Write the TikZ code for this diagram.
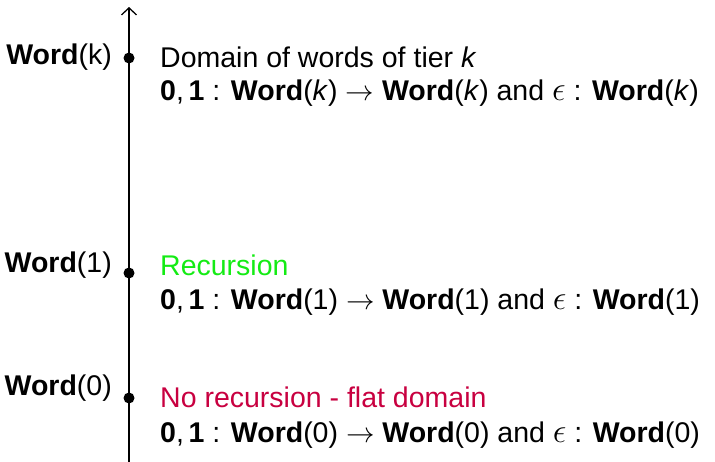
\RequirePackage{fix-cm}
\documentclass[tikz,border=0pt]{standalone}
\usepackage{fontspec}
\setmainfont{Liberation Sans}
\usetikzlibrary{arrows.meta}
\definecolor{recgreen}{RGB}{20,235,20}
\definecolor{alertred}{RGB}{200,0,64}
\newcommand{\mycolon}{\ :\ }
\begin{document}
\begin{tikzpicture}[x=1pt,y=-1pt,
  font=\fontsize{28.5}{33}\selectfont,
  dotnode/.style={circle,fill=black,inner sep=0pt,minimum size=11pt},
  lefttxt/.style={anchor=east,inner sep=0pt},
  righttxt/.style={anchor=west,inner sep=0pt}]
\useasboundingbox (0,0) rectangle (715,461);
\coordinate (bot) at (129,466);
\coordinate (top) at (129,7);
\draw[line width=1.8pt,-{Straight Barb[length=7pt,width=15pt,line width=1.3pt]}] (bot) -- (top);
\node[dotnode] (dk) at (129,58) {};
\node[dotnode] (d1) at (129,273) {};
\node[dotnode] (d0) at (129,398) {};
\node[lefttxt] (lk) at (112,57) {\textbf{Word}(k)};
\node[lefttxt] (l1) at (112,265) {\textbf{Word}(1)};
\node[lefttxt] (l0) at (112,388) {\textbf{Word}(0)};
\node[righttxt] (tk) at (160,57) {Domain of words of tier \textit{k}};
\node[righttxt] (ek) at (160,93) {\textbf{0},\,\textbf{1} : \textbf{Word}(\textit{k}) $\rightarrow$ \textbf{Word}(\textit{k}) and \scalebox{1.2}{$\epsilon$} : \textbf{Word}(\textit{k})};
\node[righttxt,text=recgreen] (t1) at (160,265) {Recursion};
\node[righttxt] (e1) at (160,302) {\textbf{0},\,\textbf{1} : \textbf{Word}(1) $\rightarrow$ \textbf{Word}(1) and \scalebox{1.2}{$\epsilon$} : \textbf{Word}(1)};
\node[righttxt,text=alertred] (t0) at (160,397) {No recursion - flat domain};
\node[righttxt] (e0) at (160,435) {\textbf{0},\,\textbf{1} : \textbf{Word}(0) $\rightarrow$ \textbf{Word}(0) and \scalebox{1.2}{$\epsilon$} : \textbf{Word}(0)};
\end{tikzpicture}
\end{document}
